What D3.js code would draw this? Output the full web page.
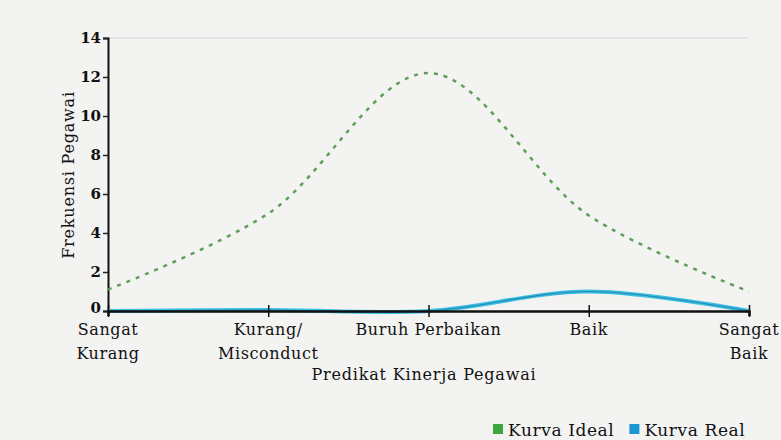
<!DOCTYPE html>
<html><head><meta charset="utf-8">
<script src="https://cdn.jsdelivr.net/npm/d3@7"></script>
<style>
html,body{margin:0;padding:0;background:#f2f2f1;}
svg{display:block;}
text{font-family:"DejaVu Serif","Liberation Serif",serif;fill:#111;}
</style></head>
<body><svg id="c" width="781" height="440"></svg>
<script>
const categories = [["Sangat","Kurang"],["Kurang/","Misconduct"],["Buruh Perbaikan"],["Baik"],["Sangat","Baik"]];
const idealValues = [1.1, 5.0, 12.2, 4.9, 1.0];
const realValues = [0.0, 0.05, 0.0, 1.0, 0.0];
const yTicks = [0,2,4,6,8,10,12,14];
const seriesNames = ["Kurva Ideal","Kurva Real"];
const seriesColors = ["#3aa83f","#1a96d0"];

const svg = d3.select("#c");
svg.append("rect").attr("width",781).attr("height",440).attr("fill","#f3f3f2");

const x = d3.scalePoint().domain(d3.range(categories.length)).range([108,749]);
const y = d3.scaleLinear().domain([0,14]).range([311,38]);

// faint top line
svg.append("line").attr("x1",108).attr("x2",749).attr("y1",y(14)).attr("y2",y(14))
  .attr("stroke","#c9c3d8").attr("stroke-width",1).attr("opacity",0.6);

// y axis
const ya = svg.append("g").attr("transform","translate(108,0)")
  .call(d3.axisLeft(y).tickValues(yTicks).tickSize(5).tickPadding(2));
ya.select(".domain").attr("stroke","#111").attr("stroke-width",2);
ya.selectAll(".tick line").attr("stroke","#222").attr("stroke-width",1.5);
ya.selectAll(".tick text").style("font-size","15px").style("font-family","DejaVu Serif")
  .style("font-weight","bold").attr("fill","#222")
  .attr("dy", d => d === 0 ? "0.1em" : "0.32em");

// curves
const line = d3.line().x((d,i)=>x(i)).y(d=>y(d)).curve(d3.curveCatmullRom.alpha(0.5));
svg.append("path").datum(idealValues).attr("d",line)
  .attr("fill","none").attr("stroke","#5f9f58").attr("stroke-width",2.5)
  .attr("stroke-dasharray","4,6");

svg.append("path").datum(realValues).attr("d",line)
  .attr("fill","none").attr("stroke","#3cc0e2").attr("stroke-width",4);
svg.append("path").datum(realValues).attr("d",line)
  .attr("fill","none").attr("stroke","#1a6f9a").attr("stroke-width",1.2).attr("opacity",0.7);

// x axis
const xa = svg.append("g").attr("transform","translate(0,311)")
  .call(d3.axisBottom(x).tickSize(5).tickFormat(""));
xa.select(".domain").attr("stroke","#111").attr("stroke-width",2.5);
xa.selectAll(".tick line").attr("y1",-6).attr("y2",6).attr("stroke","#111").attr("stroke-width",1.5);

// x labels
const lab = svg.append("g");
categories.forEach((c,i)=>{
  const t = lab.append("text").attr("x",x(i)).attr("y",335).attr("text-anchor","middle")
    .style("font-size","16px").style("letter-spacing","0.6px");
  c.forEach((s,j)=>t.append("tspan").attr("x",x(i)).attr("dy",j===0?0:24).text(s));
});

// axis titles
svg.append("text").attr("x",424).attr("y",380).attr("text-anchor","middle")
  .style("font-size","16px").style("letter-spacing","0.8px").text("Predikat Kinerja Pegawai");
svg.append("text").attr("transform","translate(74,175) rotate(-90)").attr("text-anchor","middle")
  .style("font-size","16px").style("letter-spacing","0.8px").text("Frekuensi Pegawai");

// legend
const lg = svg.append("g");
let lx = 493;
seriesNames.forEach((n,i)=>{
  lg.append("rect").attr("x",lx).attr("y",424).attr("width",10).attr("height",10).attr("fill",seriesColors[i]);
  const t = lg.append("text").attr("x",lx+15).attr("y",436).style("font-size","17px")
    .style("letter-spacing","0.6px").text(n);
  lx += 15 + t.node().getComputedTextLength() + 15;
});
</script></body></html>
